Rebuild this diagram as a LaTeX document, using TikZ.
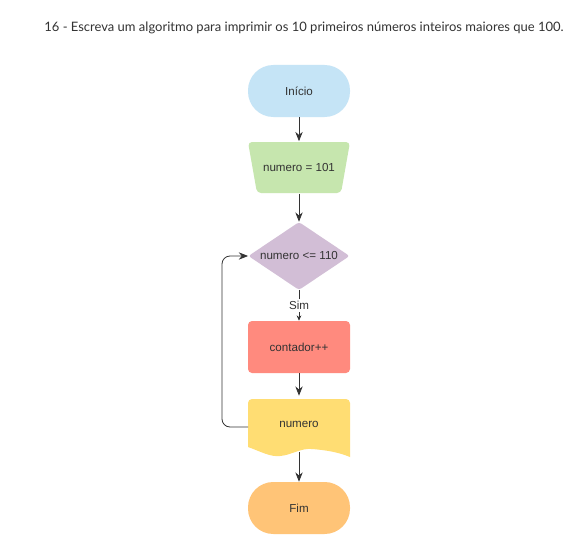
\documentclass[tikz,border=0pt]{standalone}
\usepackage{fontspec}
\setmainfont{Liberation Sans}
\newfontfamily\titlefont{Lato}
\usepackage{xcolor}
\usetikzlibrary{shapes,shapes.geometric,positioning,arrows.meta}
\definecolor{inicio}{HTML}{C5E4F6}
\definecolor{atrib}{HTML}{C6E6AE}
\definecolor{cond}{HTML}{D2BED6}
\definecolor{cont}{HTML}{FF8A7E}
\definecolor{saida}{HTML}{FFDD73}
\definecolor{fim}{HTML}{FFC477}
\definecolor{linha}{HTML}{333333}
\tikzset{caixa/.style={rectangle,minimum width=76.5pt,minimum height=39pt,font=\fontsize{8.7}{10}\selectfont,text=linha},
  term/.style={caixa,rounded corners=19pt},
  proc/.style={caixa,rounded corners=3pt},
  decisao/.style={diamond,aspect=1.5,inner sep=0pt,rounded corners=2pt,minimum width=76pt,minimum height=51pt,font=\fontsize{8.7}{10}\selectfont,text=linha},
  seta/.style={->,draw=linha,line width=0.6pt}}

\begin{document}
\begin{tikzpicture}[>={Stealth[length=7pt,width=5.5pt]},x=0.75pt,y=-0.75pt]
    \useasboundingbox[fill=white] (0,0) rectangle (578,542);
    \node[text=linha,font=\titlefont\fontsize{9.75}{12}\selectfont] (titulo)at (304,28) {16 - Escreva um algoritmo para imprimir os 10 primeiros números inteiros maiores que 100.};

    % formas desenhadas a mao
    \fill[atrib,rounded corners=3pt] (248,142) -- (350,142) -- (341,193) -- (257,193) -- cycle;
    \fill[saida] (248,447) [rounded corners=3pt] -- (248,399) -- (350,399) [sharp corners] -- (350,457)
        .. controls (338,452) and (325,450) .. (312,449) .. controls (300,448) and (292,455) .. (280,456)
        .. controls (270,457) and (262,452) .. (248,447) -- cycle;

    \node[term,fill=inicio] (a)at (299,91) {Início};
    \node[caixa] (b)at (299,167.5) {numero = 101};
    \node[decisao,fill=cond] (c)at (299,256) {numero <= 110};
    \node[proc,fill=cont] (d)at (299,347) {contador++};
    \node[caixa,minimum height=42pt] (e)at (299,424) {numero};
    \node[term,fill=fim] (f)at (299,508) {Fim};
    \coordinate (e1) at (248,427);
    \coordinate (e2) at (299,452);

    \draw [seta] (a) to (b);
    \draw [seta] (b) to (c);
    \draw [seta,-{Stealth[length=4pt,width=3.5pt]}] (c) to node[fill=white,inner sep=1.5pt,font=\fontsize{8.7}{10}\selectfont,text=linha]{Sim} (d);
    \draw [seta] (d) to (e);
    \draw [seta] (e2) to (f);
    \draw [seta,rounded corners=6pt] (e1) -- (222,427) -- (222,256) -- (c);
\end{tikzpicture}
\end{document}
